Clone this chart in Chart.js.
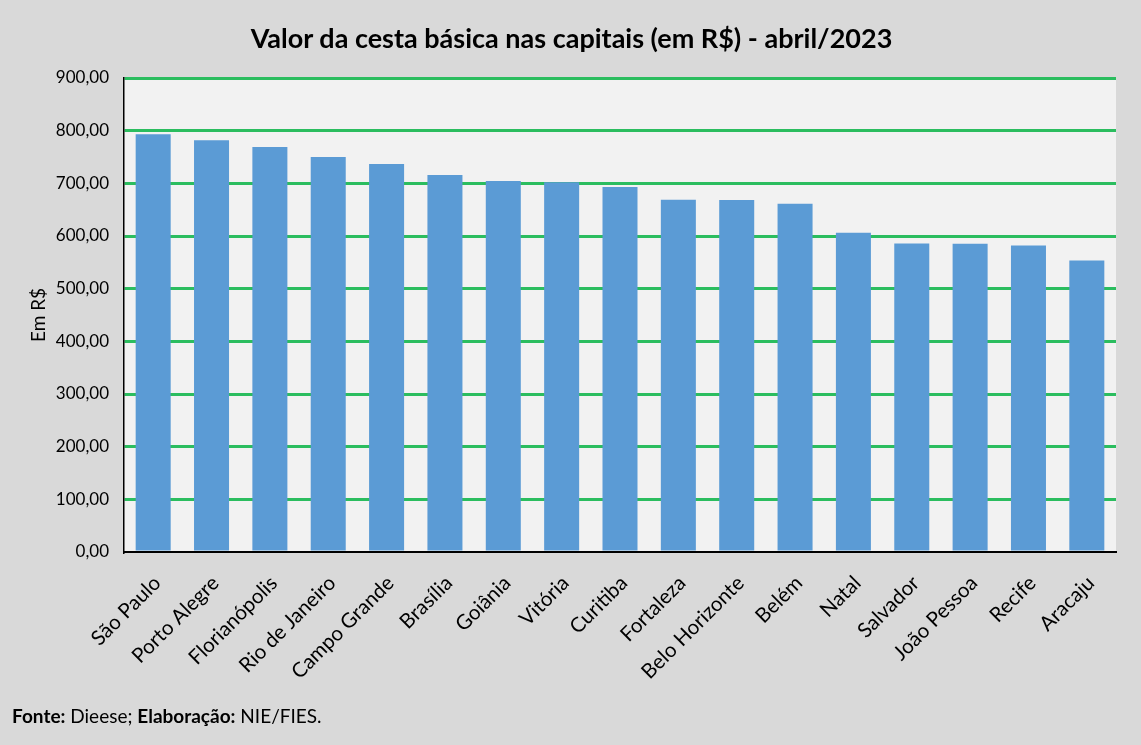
<!DOCTYPE html>
<html>
<head>
<meta charset="utf-8">
<script src="https://cdn.jsdelivr.net/npm/chart.js@4"></script>
<style>
  html, body { margin:0; padding:0; background:#d9d9d9; }
  #wrap { position:relative; width:1141px; height:745px; }
  canvas { display:block; }
  #titulo { position:absolute; left:0; width:1143px; top:20px; text-align:center; font-family:Lato, "Open Sans", sans-serif; font-size:27px; font-weight:bold; color:#000; line-height:36px; }
  #fonte { position:absolute; left:12px; top:704px; font-family:Lato, "Open Sans", sans-serif; font-size:19px; color:#000; line-height:24px; }
</style>
</head>
<body>
<div id="wrap">
  <canvas id="c" width="1141" height="745"></canvas>
  <div id="titulo"></div>
  <div id="fonte"><b>Fonte:</b> Dieese; <b>Elaboração:</b> NIE/FIES.</div>
</div>
<script>
const categories = ["São Paulo","Porto Alegre","Florianópolis","Rio de Janeiro","Campo Grande","Brasília","Goiânia","Vitória","Curitiba","Fortaleza","Belo Horizonte","Belém","Natal","Salvador","João Pessoa","Recife","Aracaju"];
const values = [793.3, 781.9, 768.8, 749.9, 736.5, 715.6, 704.3, 702.0, 693.2, 668.7, 668.5, 661.0, 606.1, 585.6, 585.4, 581.9, 553.3];
const titleText = "Valor da cesta básica nas capitais (em R$) - abril/2023";
const yTitle = "Em R$";
const yMin = 0, yMax = 900, yStep = 100;

document.getElementById('titulo').textContent = titleText;

const FONT = "Lato, 'Open Sans', sans-serif";

const plotBg = {
  id: 'plotBg',
  beforeDraw(chart) {
    const {ctx, chartArea: a} = chart;
    ctx.save();
    ctx.fillStyle = '#d9d9d9';
    ctx.fillRect(0, 0, chart.width, chart.height);
    ctx.fillStyle = '#f2f2f2';
    ctx.fillRect(a.left, a.top, a.right - a.left, a.bottom - a.top);
    ctx.restore();
  }
};

new Chart(document.getElementById('c'), {
  type: 'bar',
  data: {
    labels: categories,
    datasets: [{
      data: values,
      backgroundColor: '#5b9bd5',
      borderWidth: 0,
      barPercentage: 0.6,
      categoryPercentage: 1.0
    }]
  },
  options: {
    responsive: false,
    animation: false,
    devicePixelRatio: 1,
    layout: { padding: { left: 0, right: 25, top: 78, bottom: 0 } },
    plugins: {
      legend: { display: false },
      tooltip: { enabled: false },
      title: { display: false }
    },
    scales: {
      x: {
        grid: { display: false, drawTicks: false },
        border: { color: '#000', width: 2 },
        ticks: {
          autoSkip: false, maxRotation: 45, minRotation: 45,
          color: '#000', padding: 19, labelOffset: 4,
          font: { family: FONT, size: 20.5 }
        },
        afterFit(s) { s.height = 193; }
      },
      y: {
        min: yMin, max: yMax,
        grid: {
          color: (c) => c.tick && c.tick.value === 0 ? 'rgba(0,0,0,0)' : '#2bbd5f',
          lineWidth: 3, drawTicks: false
        },
        border: { color: '#000', width: 1.5 },
        ticks: {
          stepSize: yStep, color: '#000', padding: 15,
          font: { family: FONT, size: 17 },
          callback: (v) => Number(v).toFixed(2).replace('.', ',')
        },
        title: {
          display: true, text: yTitle, color: '#000',
          font: { family: FONT, size: 19 },
          padding: { top: 27, bottom: 0 }
        },
        afterFit(s) { s.width = 124; }
      }
    }
  },
  plugins: [plotBg]
});
</script>
</body>
</html>
